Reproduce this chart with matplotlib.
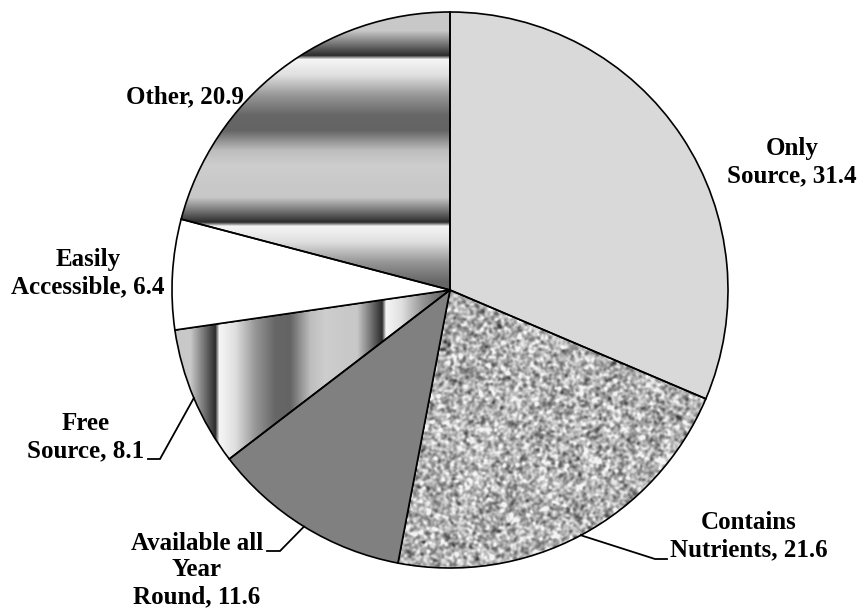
import numpy as np
import matplotlib
matplotlib.use("Agg")
import matplotlib.pyplot as plt

# Reasons given (percent of respondents)
labels = ["Only\nSource", "Contains\nNutrients", "Available all\nYear\nRound",
          "Free\nSource", "Easily\nAccessible", "Other"]
values = [31.4, 21.6, 11.6, 8.1, 6.4, 20.9]

W, H = 861, 611
fig = plt.figure(figsize=(W / 100, H / 100), dpi=100)
ax = fig.add_axes([0, 0, 1, 1])

cx, cy, R = 450, -290, 278
fills = ["#d9d9d9", "none", "#808080", "none", "#ffffff", "none"]
wedges, _ = ax.pie(values, center=(cx, cy), radius=R, startangle=90,
                   counterclock=False, colors=["w"] * len(values),
                   wedgeprops=dict(edgecolor="black", linewidth=1.2),
                   frame=True)
ax.set_xlim(0, W)
ax.set_ylim(-H, 0)
ax.set_aspect("equal")
ax.axis("off")
for w, f in zip(wedges, fills):
    w.set_facecolor(f)
    w.set_zorder(2)

# texture helpers -----------------------------------------------------------
N = 560
x0, x1 = cx - R - 2, cx + R + 2
y0, y1 = cy - R - 2, cy + R + 2
px = np.linspace(x0, x1, N)          # pixel x of each column
py = -np.linspace(y1, y0, N)         # pixel (down) y of each row


def band_profile(t, dark):
    """Metallic banded shading with a period of 167 px."""
    period = 167.0
    ph = np.mod(t - dark + 25, period) - 25
    kx = [-25, -12, 0, 4, 20, 40, 60, 75, 95, 110, 130, 142]
    ky = [200, 120, 45, 245, 222, 150, 102, 100, 188, 205, 200, 200]
    return np.interp(ph, kx, ky) / 255.0


def add_texture(img, wedge):
    im = ax.imshow(img, extent=[x0, x1, y0, y1], origin="upper",
                   cmap="gray", vmin=0, vmax=1, interpolation="bilinear",
                   zorder=1)
    im.set_clip_path(wedge)


# Other: horizontal bands
prof_y = band_profile(py, 55)
add_texture(np.tile(prof_y[:, None], (1, N)), wedges[5])

# Free Source: vertical bands
prof_x = band_profile(px, 215)
add_texture(np.tile(prof_x[None, :], (N, 1)), wedges[3])

# Contains Nutrients: granite speckle
rng = np.random.default_rng(11)
noise = rng.normal(size=(N, N))
k = np.exp(-0.5 * (np.arange(-4, 5) / 1.3) ** 2)
k /= k.sum()
noise = np.apply_along_axis(lambda r: np.convolve(r, k, mode="same"), 1, noise)
noise = np.apply_along_axis(lambda c: np.convolve(c, k, mode="same"), 0, noise)
noise = noise / noise.std()
gran = np.clip(0.70 + 0.13 * noise, 0.25, 0.95)
add_texture(gran, wedges[1])

# labels --------------------------------------------------------------------
font = dict(family="Liberation Serif", weight="bold", size=18,
            ha="center", va="center", linespacing=1.22, color="black")
text_pos = [(792, -162), (749, -536), (197, -570),
            (86, -437), (88, -273), (185, -97)]
for lab, v, (tx, ty) in zip(labels, values, text_pos):
    ax.text(tx, ty, f"{lab}, {v}", zorder=5, **font)


def edge_point(wedge):
    mid = np.deg2rad((wedge.theta1 + wedge.theta2) / 2)
    return cx + R * np.cos(mid), cy + R * np.sin(mid)


# leader lines: (wedge index, elbow point, end point)
leaders = [(1, (655, -559), (667, -559)),
           (2, (280, -551), (267, -551)),
           (3, (160, -459), (148, -459))]
for i, elbow, end in leaders:
    sx, sy = edge_point(wedges[i])
    ax.plot([sx, elbow[0], end[0]], [sy, elbow[1], end[1]],
            color="black", lw=1.3, zorder=4, solid_joinstyle="miter")

fig.savefig("out.png", dpi=100, facecolor="white")
